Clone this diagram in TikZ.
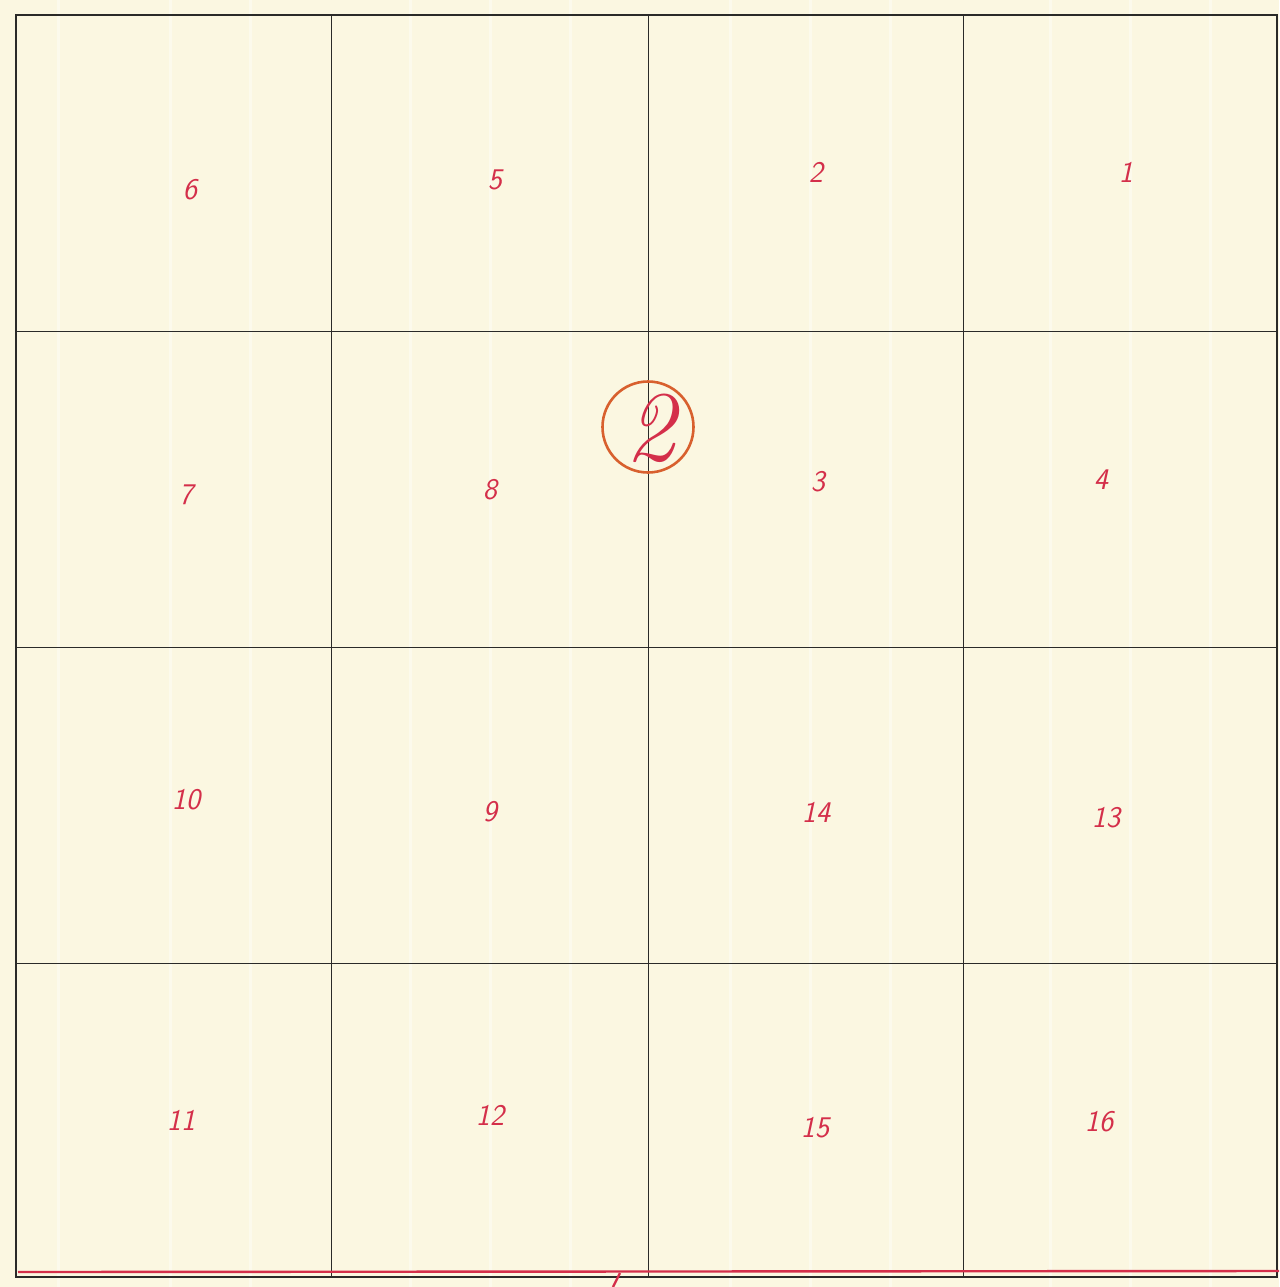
\documentclass[tikz,border=0pt]{standalone}
\usetikzlibrary{calc}
\definecolor{paper}{HTML}{FBF7E1}
\definecolor{ink}{HTML}{2A2A28}
\definecolor{redink}{HTML}{D42F4A}
\definecolor{circink}{HTML}{D8602E}
\begin{document}
\begin{tikzpicture}[x=1pt,y=-1pt,
  gridline/.style={draw=ink,line width=0.8pt},
  frameline/.style={draw=ink,line width=2pt},
  num/.style={text=redink,font=\fontsize{30}{30}\selectfont\sffamily\itshape,inner sep=0pt},
  bignum/.style={text=redink,font=\fontsize{100}{100}\selectfont\itshape,inner sep=0pt},
  ring/.style={draw=circink,line width=2.6pt,circle,minimum size=91pt,inner sep=0pt},
  redline/.style={draw=redink,line width=2.4pt}]
\fill[paper] (0,0) rectangle (1279,1287);
\useasboundingbox (0,0) rectangle (1279,1287);
% faint paper ruling
\foreach \x in {58,170,250,410,490,570,730,810,890,1050,1130,1210}
  \draw[white!35!paper,line width=3pt] (\x,0) -- (\x,1287);
% corners of grid
\coordinate (TL) at (16,15);
\coordinate (BR) at (1277,1277);
\foreach \x [count=\i] in {331,648,963}{
  \coordinate (vt\i) at (\x,15);
  \coordinate (vb\i) at (\x,1277);
}
\foreach \y [count=\i] in {331,647,963}{
  \coordinate (hl\i) at (16,\y);
  \coordinate (hr\i) at (1277,\y);
}
\foreach \i in {1,2,3}{
  \draw[gridline] (vt\i) -- (vb\i);
  \draw[gridline] (hl\i) -- (hr\i);
}
\draw[frameline] (TL) rectangle (BR);
% red line near bottom
\coordinate (rl) at (18,1272);
\coordinate (rr) at (1279,1271);
\draw[redline] (rl) -- (rr);
\coordinate (tk1) at (613,1287);
\coordinate (tk2) at (620,1273);
\draw[redline] (tk1) -- (tk2);
% cell numbers
\node[num] (n6) at (190,190) {6};
\node[num] (n5) at (495,180) {5};
\node[num] (n2) at (816,172) {2};
\node[num] (n1) at (1126,172) {1};
\node[num] (n7) at (186,495) {7};
\node[num] (n8) at (490,490) {8};
\node[num] (n3) at (818,482) {3};
\node[num] (n4) at (1101,480) {4};
\node[num] (n10) at (186,800) {10};
\node[num] (n9) at (490,812) {9};
\node[num] (n14) at (816,812) {14};
\node[num] (n13) at (1106,818) {13};
\node[num] (n11) at (181,1120) {11};
\node[num] (n12) at (490,1115) {12};
\node[num] (n15) at (815,1128) {15};
\node[num] (n16) at (1099,1122) {16};
% circled sheet number
\node[ring] (ring) at (648,427) {};
\node[bignum] (big2) at (650,428) {2};
\end{tikzpicture}
\end{document}
